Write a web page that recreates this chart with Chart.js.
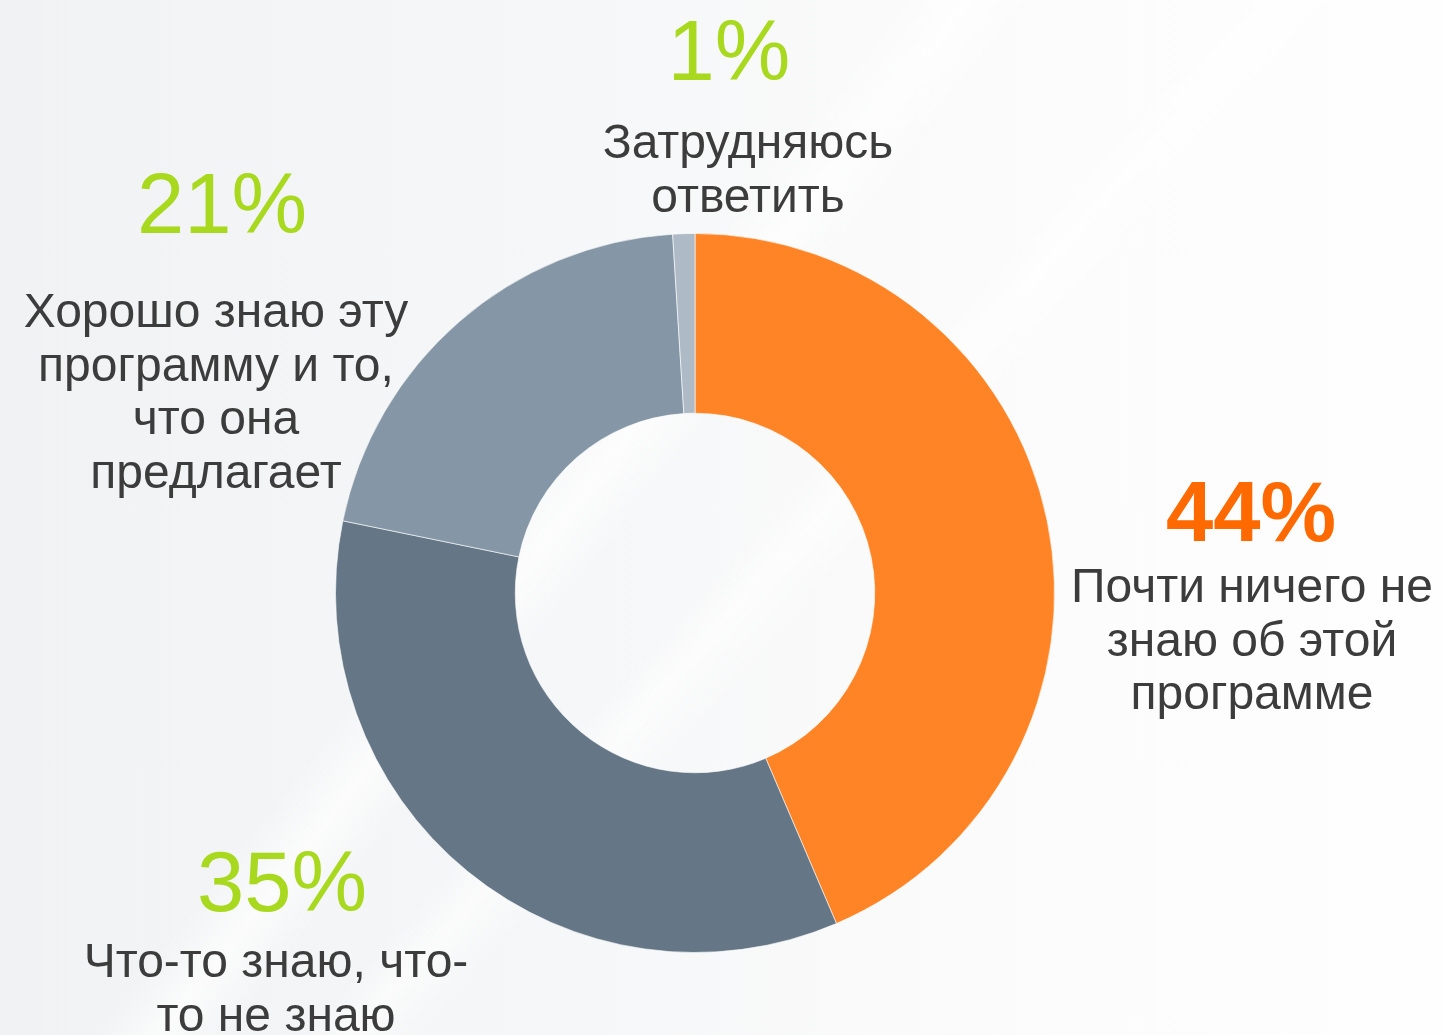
<!DOCTYPE html>
<html lang="ru">
<head>
<meta charset="utf-8">
<title>Осведомлённость о программе</title>
<script src="https://cdn.jsdelivr.net/npm/chart.js@4/dist/chart.umd.min.js"></script>
<style>
  html, body { margin: 0; padding: 0; }
  body {
    width: 1444px; height: 1035px; overflow: hidden;
    background:
      linear-gradient(128deg, rgba(255,255,255,0) 0%, rgba(255,255,255,0) 40%, rgba(255,255,255,0.7) 43%, rgba(255,255,255,0) 46%, rgba(255,255,255,0) 100%),
      linear-gradient(132deg, rgba(255,255,255,0) 0%, rgba(255,255,255,0) 52%, rgba(255,255,255,0.6) 54%, rgba(255,255,255,0) 57%, rgba(255,255,255,0) 100%),
      linear-gradient(90deg, #f0f2f3 0%, #f6f7f8 40%, #fcfcfc 75%, #fefefe 100%);
  }
  #wrap { position: relative; width: 1444px; height: 1035px; }
</style>
</head>
<body>
<div id="wrap"><canvas id="chart" width="1444" height="1035"></canvas></div>
<script>
// Survey answers, clockwise from 12 o'clock
const categories = [
  ['Почти ничего не', 'знаю об этой', 'программе'],
  ['Что-то знаю, что-', 'то не знаю'],
  ['Хорошо знаю эту', 'программу и то,', 'что она', 'предлагает'],
  ['Затрудняюсь', 'ответить']
];
const shares = [44, 35, 21, 1];
const sliceColors = ['#ff8426', '#657787', '#8597a6', '#aebac5'];
const percentColors = ['#ff6a00', '#a8d91f', '#a8d91f', '#a8d91f'];
const percentBold = [true, false, false, false];

// Label placement relative to the ring centre:
// [percent centre dx, percent baseline dy, caption centre dx, first caption baseline dy]
const labelOffsets = [
  [556, -52, 557, 9],
  [-413, 318, -419, 384],
  [-473, -360, -479, -266],
  [34, -513, 53, -435]
];
const LINE_STEP = 53.5;

const FONT = '"Liberation Sans", Arial, sans-serif';

const labelPlugin = {
  id: 'sliceLabels',
  afterDraw(chart) {
    const ctx = chart.ctx;
    const arc = chart.getDatasetMeta(0).data[0];
    const cx = arc.x, cy = arc.y;
    const values = chart.data.datasets[0].data;
    ctx.save();
    ctx.textAlign = 'center';
    ctx.textBaseline = 'alphabetic';
    values.forEach((v, i) => {
      const [pdx, pdy, tdx, tdy] = labelOffsets[i];
      ctx.fillStyle = percentColors[i];
      ctx.font = (percentBold[i] ? 'bold ' : '') + '85px ' + FONT;
      ctx.fillText(v + '%', cx + pdx, cy + pdy);
      ctx.fillStyle = '#3c3c3c';
      ctx.font = '48px ' + FONT;
      chart.data.labels[i].forEach((line, k) => {
        ctx.fillText(line, cx + tdx, cy + tdy + k * LINE_STEP);
      });
    });
    ctx.restore();
  }
};

new Chart(document.getElementById('chart'), {
  type: 'doughnut',
  data: {
    labels: categories,
    datasets: [{
      data: shares,
      backgroundColor: sliceColors,
      borderColor: 'rgba(255,255,255,0.6)',
      borderWidth: 1
    }]
  },
  options: {
    responsive: false,
    animation: false,
    cutout: '50%',
    layout: { padding: { left: 335, right: 389, top: 233, bottom: 82 } },
    plugins: {
      legend: { display: false },
      tooltip: { enabled: false }
    }
  },
  plugins: [labelPlugin]
});
</script>
</body>
</html>
